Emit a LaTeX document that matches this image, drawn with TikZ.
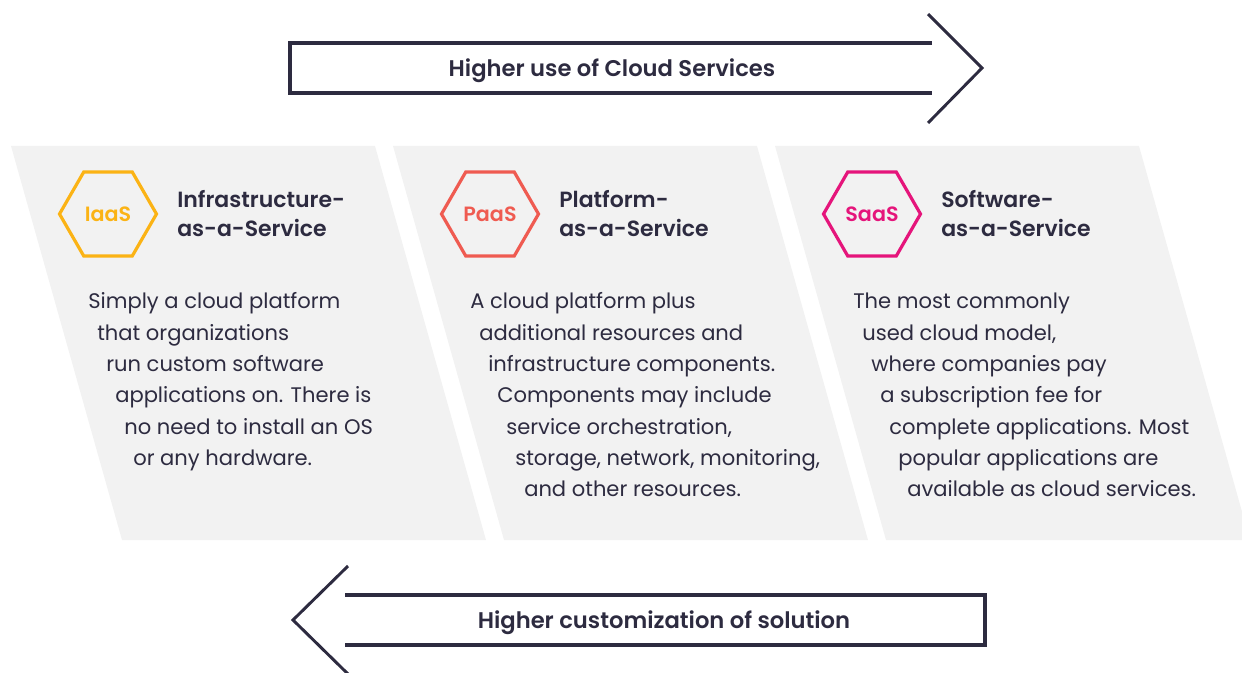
\documentclass[tikz,border=0pt]{standalone}
\usepackage{fontspec}
\setmainfont{Poppins}[BoldFont={Poppins SemiBold}]
\usetikzlibrary{shapes.geometric,positioning}
\definecolor{dnavy}{HTML}{2D2B40}
\definecolor{pgrey}{HTML}{F2F2F2}
\definecolor{iaascol}{HTML}{FBB315}
\definecolor{paascol}{HTML}{EF5B51}
\definecolor{saascol}{HTML}{E5157B}

\begin{document}
\begin{tikzpicture}[x=0.75pt, y=0.75pt,
    panel/.style={fill=pgrey},
    band/.style={draw=dnavy, line width=3pt},
    chevron/.style={draw=dnavy, line width=2.2pt},
    hexa/.style={regular polygon, regular polygon sides=6, minimum size=72.75pt, inner sep=0pt, line width=2.4pt, font=\fontsize{15.5}{15.5}\selectfont\bfseries},
    title/.style={right=14pt of #1, align=left, inner sep=0pt, text=dnavy, font=\fontsize{16.5}{21.75}\selectfont\bfseries},
    body/.style={anchor=base west, inner sep=0pt, text=dnavy, font=\fontsize{15.8}{17}\selectfont},
    bandtext/.style={text=dnavy, font=\fontsize{17}{17}\selectfont\bfseries}]
	\useasboundingbox (0,0) rectangle (1242,-673);
	% slanted panels
	\foreach \i in {0,1,2}
		\fill[panel] ({11+382*\i},-146) -- ++(364,0) -- ++(111,-394) -- ++(-364,0) -- cycle;
	% top band
	\draw[band] (932,-43) -- (290,-43) -- (290,-93) -- (932,-93);
	\draw[chevron] (928,-14) -- (982,-68) -- (928,-123);
	\node[bandtext] (upT) at (612,-71) {Higher use of Cloud Services};
	% bottom band
	\draw[band] (345,-595) -- (985,-595) -- (985,-645) -- (345,-645);
	\draw[chevron] (348,-566) -- (293,-620) -- (348,-674);
	\node[bandtext] (downT) at (664,-623) {Higher customization of solution};
	% hexagons and titles
	\node[hexa, draw=iaascol, text=iaascol] (hexI) at (108,-214) {IaaS};
	\node[title=hexI] (titI) {Infrastructure-\\as-a-Service};
	\node[hexa, draw=paascol, text=paascol] (hexP) at (490,-214) {PaaS};
	\node[title=hexP] (titP) {Platform-\\as-a-Service};
	\node[hexa, draw=saascol, text=saascol] (hexS) at (872,-214) {SaaS};
	\node[title=hexS] (titS) {Software-\\as-a-Service};
	% body lines, shifted along the slant
	\foreach \txt [count=\k from 0] in {Simply a cloud platform, that organizations, run custom software, applications on. There is, no need to install an OS, or any hardware.}
		\node[body] (bodyI\k) at ({88+9*\k},{-309-31.3*\k}) {\txt};
	\foreach \txt [count=\k from 0] in {A cloud platform plus, additional resources and, infrastructure components., Components may include, {service orchestration,}, {storage, network, monitoring,}, and other resources.}
		\node[body] (bodyP\k) at ({470+9*\k},{-309-31.3*\k}) {\txt};
	\foreach \txt [count=\k from 0] in {The most commonly, {used cloud model,}, where companies pay, a subscription fee for, complete applications. Most, popular applications are, available as cloud services.}
		\node[body] (bodyS\k) at ({853+9*\k},{-309-31.3*\k}) {\txt};
\end{tikzpicture}
\end{document}
